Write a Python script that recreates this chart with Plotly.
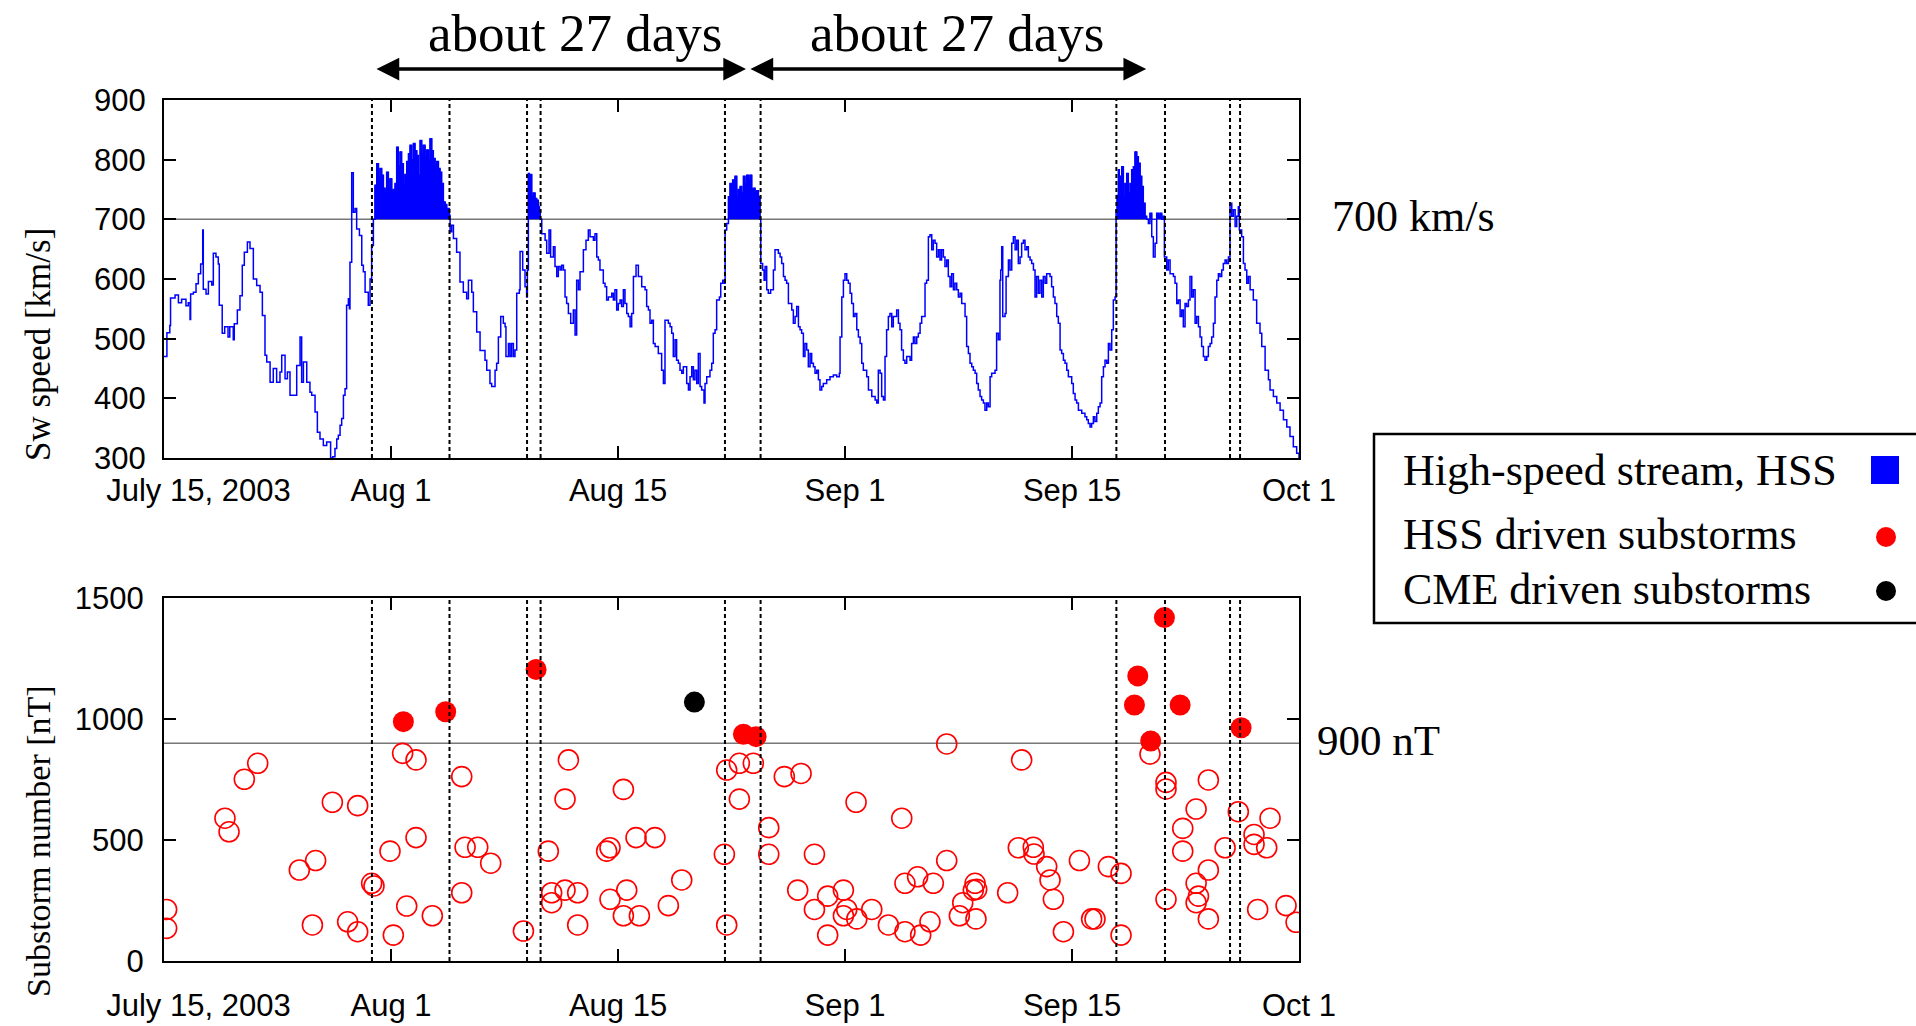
import plotly.graph_objects as go

# ---------------- DATA ----------------
# x values are days since 2003-07-15 00:00 UT
x_tick_days = [0, 15.6, 31.2, 46.8, 62.4, 78]
x_tick_labels = ["\u00a0" * 8 + "July 15, 2003", "Aug 1", "Aug 15", "Sep 1", "Sep 15", "Oct 1"]

# solar wind speed (day, km/s)
sw_speed = [
    (0.00, 470), (0.20, 510), (0.40, 522), (0.45, 568), (0.76, 573), (0.99, 560), (1.21, 566), (1.51, 555),
    (1.67, 560), (1.79, 532), (1.83, 575), (2.02, 578), (2.20, 592), (2.36, 609), (2.52, 625), (2.66, 682),
    (2.70, 583), (2.89, 575), (3.05, 596), (3.28, 590), (3.39, 643), (3.57, 637), (3.73, 625), (3.80, 556),
    (4.00, 509), (4.17, 520), (4.40, 503), (4.52, 520), (4.76, 498), (4.83, 525), (5.04, 548), (5.22, 572),
    (5.38, 623), (5.52, 645), (5.73, 662), (5.91, 651), (6.14, 600), (6.37, 589), (6.60, 578), (6.76, 539),
    (6.94, 472), (7.06, 461), (7.29, 427), (7.51, 450), (7.74, 427), (7.97, 444), (8.09, 472), (8.32, 433),
    (8.48, 444), (8.66, 405), (9.12, 455), (9.35, 503), (9.46, 427), (9.58, 461), (9.81, 427), (10.03, 410),
    (10.15, 405), (10.38, 377), (10.54, 343), (10.72, 332), (10.95, 321), (11.18, 327), (11.45, 300),
    (11.60, 302), (11.75, 316), (11.87, 332), (11.98, 338), (12.10, 355), (12.21, 366), (12.33, 405),
    (12.44, 416), (12.55, 556), (12.67, 567), (12.74, 550), (12.78, 628), (12.90, 778), (13.01, 712),
    (13.13, 718), (13.24, 684), (13.43, 673), (13.59, 623), (13.70, 612), (13.82, 578), (14.04, 556),
    (14.16, 600), (14.27, 656), (14.39, 700),
    (14.50, 757), (14.56, 730), (14.62, 793), (14.74, 770), (14.85, 785), (14.96, 774), (15.08, 752),
    (15.19, 745), (15.30, 779), (15.42, 752), (15.53, 768), (15.65, 748), (15.76, 750), (15.88, 760),
    (15.99, 821), (16.10, 790), (16.22, 813), (16.33, 793), (16.45, 757), (16.56, 775), (16.68, 797),
    (16.80, 810), (16.91, 824), (17.02, 800), (17.14, 827), (17.25, 815), (17.37, 807), (17.48, 774),
    (17.60, 832), (17.71, 810), (17.82, 824), (17.94, 805), (18.05, 816), (18.17, 800), (18.28, 835),
    (18.40, 815), (18.51, 802), (18.63, 790), (18.74, 797), (18.86, 785), (18.97, 779), (19.08, 760),
    (19.20, 729), (19.32, 725), (19.43, 718), (19.61, 707),
    (19.66, 679), (19.77, 690), (19.89, 668), (20.11, 645), (20.34, 595), (20.57, 578), (20.80, 567),
    (20.92, 598), (21.15, 578), (21.26, 545), (21.49, 511), (21.72, 480), (22.06, 464), (22.18, 447),
    (22.40, 425), (22.52, 420), (22.75, 447), (22.86, 459), (22.98, 503), (23.14, 537), (23.32, 526),
    (23.44, 520), (23.50, 470), (23.67, 492), (23.78, 470), (23.89, 492), (24.01, 470), (24.12, 481),
    (24.24, 576), (24.42, 582), (24.47, 646), (24.65, 615), (24.81, 587), (24.92, 570), (24.97, 615),
    (25.04, 777), (25.10, 760), (25.15, 775), (25.27, 738), (25.38, 744), (25.50, 735), (25.61, 732),
    (25.72, 721), (25.80, 715), (25.86, 700),
    (25.96, 676), (26.19, 665), (26.30, 643), (26.46, 682), (26.57, 637), (26.76, 654), (26.87, 621),
    (26.99, 604), (27.10, 621), (27.22, 615), (27.33, 623), (27.45, 615), (27.56, 570), (27.67, 559),
    (27.79, 542), (27.95, 526), (28.13, 548), (28.25, 506), (28.36, 598), (28.48, 582), (28.59, 612),
    (28.82, 649), (29.00, 665), (29.16, 682), (29.28, 671), (29.51, 665), (29.62, 676), (29.74, 637),
    (29.85, 632), (29.96, 615), (30.19, 593), (30.31, 587), (30.42, 565), (30.54, 570), (30.77, 576),
    (30.88, 565), (30.99, 582), (31.11, 548), (31.22, 559), (31.34, 565), (31.45, 554), (31.57, 582),
    (31.68, 559), (31.80, 542), (31.91, 537), (32.03, 520), (32.14, 542), (32.26, 604), (32.44, 623),
    (32.60, 604), (32.83, 587), (33.06, 582), (33.17, 554), (33.29, 548), (33.40, 526), (33.52, 531),
    (33.63, 492), (33.75, 487), (33.97, 475), (34.20, 447), (34.32, 425), (34.43, 531), (34.66, 526),
    (34.78, 520), (34.89, 509), (35.00, 470), (35.12, 498), (35.23, 464), (35.35, 459), (35.46, 447),
    (35.58, 442), (35.69, 453), (35.92, 425), (36.04, 414), (36.15, 436), (36.27, 453), (36.38, 431),
    (36.49, 447), (36.61, 425), (36.72, 475), (36.84, 420), (36.95, 414), (37.11, 392), (37.18, 425),
    (37.30, 436), (37.52, 447), (37.64, 459), (37.75, 509), (37.87, 515), (37.98, 565), (38.17, 570),
    (38.26, 593), (38.40, 598), (38.51, 593), (38.56, 682), (38.67, 693),
    (38.79, 738), (38.90, 760), (38.99, 745), (39.08, 766), (39.16, 748), (39.24, 772), (39.36, 738),
    (39.47, 750), (39.59, 755), (39.70, 745), (39.82, 772), (39.93, 760), (40.05, 774), (40.16, 766),
    (40.27, 774), (40.39, 749), (40.50, 752), (40.62, 744), (40.73, 748), (40.85, 738), (40.96, 700),
    (41.01, 626), (41.14, 615), (41.24, 598), (41.31, 621), (41.42, 582), (41.53, 576), (41.69, 582),
    (41.88, 615), (41.99, 649), (42.22, 643), (42.34, 637), (42.45, 626), (42.57, 604), (42.68, 598),
    (42.79, 593), (42.91, 559), (43.14, 548), (43.25, 526), (43.37, 537), (43.48, 554), (43.60, 520),
    (43.71, 515), (43.82, 509), (43.94, 470), (44.05, 492), (44.17, 481), (44.28, 453), (44.40, 475),
    (44.51, 459), (44.63, 453), (44.74, 442), (44.86, 447), (44.97, 431), (45.08, 414), (45.20, 420),
    (45.31, 425), (45.54, 431), (45.77, 436), (46.00, 439), (46.23, 436), (46.41, 442), (46.46, 503),
    (46.58, 570), (46.69, 598), (46.80, 609), (46.92, 598), (47.03, 593), (47.15, 576), (47.26, 559),
    (47.38, 537), (47.49, 542), (47.61, 515), (47.72, 503), (47.84, 492), (47.95, 459), (48.06, 447),
    (48.29, 436), (48.41, 414), (48.64, 403), (48.87, 397), (48.98, 392), (49.09, 447), (49.21, 442),
    (49.32, 403), (49.44, 397), (49.55, 470), (49.66, 515), (49.78, 537), (49.89, 542), (50.01, 520),
    (50.12, 537), (50.35, 548), (50.47, 526), (50.58, 515), (50.69, 481), (50.81, 464), (50.92, 459),
    (51.04, 470), (51.27, 464), (51.38, 492), (51.50, 503), (51.61, 492), (51.73, 503), (51.84, 509),
    (51.96, 526), (52.07, 537), (52.19, 537), (52.30, 593), (52.41, 598), (52.53, 671), (52.64, 674),
    (52.76, 649), (52.87, 665), (52.99, 660), (53.10, 637), (53.22, 649), (53.33, 632), (53.44, 649),
    (53.56, 637), (53.67, 621), (53.79, 632), (53.90, 604), (54.02, 587), (54.13, 609), (54.25, 582),
    (54.36, 593), (54.48, 582), (54.59, 570), (54.71, 576), (54.82, 559), (55.05, 537), (55.16, 487),
    (55.28, 475), (55.39, 459), (55.51, 453), (55.62, 447), (55.74, 442), (55.85, 425), (55.96, 414),
    (56.08, 403), (56.19, 397), (56.31, 392), (56.42, 380), (56.54, 392), (56.65, 386), (56.77, 436),
    (56.88, 442), (57.11, 447), (57.22, 509), (57.34, 498), (57.45, 598), (57.50, 615), (57.57, 654),
    (57.64, 537), (57.80, 542), (57.87, 604), (58.03, 632), (58.14, 615), (58.26, 660), (58.37, 671),
    (58.49, 649), (58.60, 665), (58.71, 626), (58.83, 637), (58.94, 660), (59.06, 665), (59.17, 649),
    (59.29, 654), (59.40, 637), (59.52, 632), (59.63, 626), (59.75, 615), (59.86, 570), (59.97, 604),
    (60.09, 576), (60.20, 598), (60.32, 570), (60.43, 604), (60.55, 593), (60.66, 609), (60.89, 604),
    (61.00, 587), (61.12, 570), (61.23, 559), (61.35, 537), (61.46, 526), (61.58, 481), (61.69, 475),
    (61.81, 464), (61.92, 459), (62.04, 447), (62.15, 436), (62.38, 425), (62.49, 408), (62.61, 397),
    (62.72, 392), (62.84, 380), (62.95, 380), (63.07, 375), (63.29, 369), (63.41, 364), (63.52, 358),
    (63.64, 352), (63.75, 358), (63.87, 369), (63.98, 361), (64.10, 375), (64.21, 386), (64.33, 392),
    (64.44, 436), (64.56, 453), (64.67, 464), (64.79, 459), (64.90, 492), (65.01, 481), (65.13, 515),
    (65.24, 565), (65.36, 570),
    (65.43, 716), (65.50, 740), (65.59, 783), (65.65, 745), (65.70, 772), (65.76, 740), (65.82, 788),
    (65.93, 738), (66.04, 760), (66.10, 735), (66.16, 777), (66.27, 744), (66.39, 760), (66.50, 783),
    (66.62, 788), (66.73, 813), (66.85, 805), (66.96, 794), (67.08, 772), (67.19, 755), (67.30, 727),
    (67.42, 705), (67.53, 700), (67.65, 693), (67.76, 710), (67.88, 671), (67.99, 637), (68.11, 660),
    (68.22, 710), (68.34, 705), (68.45, 710), (68.57, 700), (68.68, 705),
    (68.75, 637), (68.91, 615), (69.02, 632), (69.14, 609), (69.37, 604), (69.48, 593), (69.60, 559),
    (69.71, 565), (69.83, 537), (69.94, 548), (70.05, 520), (70.17, 559), (70.28, 554), (70.40, 565),
    (70.51, 604), (70.63, 570), (70.74, 582), (70.86, 526), (70.97, 537), (71.09, 520), (71.20, 503),
    (71.31, 487), (71.43, 470), (71.54, 464), (71.66, 470), (71.77, 487), (71.89, 492), (72.00, 503),
    (72.12, 526), (72.23, 570), (72.35, 598), (72.46, 609), (72.57, 604), (72.69, 615), (72.80, 626),
    (72.92, 632), (73.03, 626), (73.15, 637), (73.26, 727), (73.38, 705), (73.49, 716), (73.61, 688),
    (73.72, 705), (73.83, 721), (73.90, 682), (74.06, 671), (74.18, 626), (74.29, 615), (74.41, 593),
    (74.52, 604), (74.64, 582), (74.86, 565), (75.09, 526), (75.32, 509), (75.44, 487), (75.67, 447),
    (75.90, 431), (76.01, 414), (76.24, 403), (76.47, 392), (76.70, 380), (76.93, 364), (77.16, 352),
    (77.38, 336), (77.61, 319), (77.84, 308), (78.00, 297),
]
sw_days = [p[0] for p in sw_speed]
sw_kms = [p[1] for p in sw_speed]

speed_threshold = 700
substorm_threshold = 900

# HSS boundaries (days); pairs (0,1), (2,3), (4,5), (6,7) are filled HSS intervals
hss_boundaries = [14.29, 19.62, 24.95, 25.88, 38.55, 41.0, 65.45, 68.79, 73.26, 73.95]
hss_fill_pairs = [(0, 1), (2, 3), (4, 5), (6, 7)]

# substorms (day, nT)
quiet_days = [0.18, 0.18, 4.19, 4.47, 5.52, 6.44, 9.30, 10.42, 10.20, 11.57, 13.31, 12.62, 13.31, 14.27,
              14.43, 15.53, 15.76, 16.68, 16.40, 17.32, 17.32, 18.44, 20.46, 20.46, 20.69, 21.56, 22.45,
              24.70, 26.41, 26.64, 26.64, 27.56, 28.43, 28.43, 27.56, 27.79, 30.42, 30.65, 30.65, 31.80,
              31.57, 32.67, 32.44, 33.74, 31.57, 34.66, 35.58, 38.51, 38.67, 38.67, 39.54, 39.54, 40.50,
              41.56, 41.56, 42.63, 43.78, 43.55, 44.70, 44.70, 45.61, 45.61, 46.69, 46.92, 46.69, 47.61,
              48.64, 49.78, 47.56, 50.70, 50.92, 50.92, 51.79, 52.87, 52.64, 52.00, 53.79, 53.79, 54.66,
              54.89, 55.74, 55.62, 55.85, 55.80, 57.98, 58.71, 59.74, 59.79, 60.66, 60.89, 61.12, 58.94,
              61.81, 62.91, 63.75, 63.98, 64.90, 65.77, 65.77, 67.76, 68.86, 68.86, 68.86, 70.01, 70.01,
              70.93, 70.93, 71.09, 70.93, 71.77, 71.77, 71.77, 72.92, 73.83, 74.91, 74.91, 75.78, 76.01,
              75.16, 77.11, 77.80]
quiet_nt = [213, 135, 590, 534, 751, 817, 376, 415, 149, 656, 642, 162, 121, 321,
            310, 454, 107, 227, 858, 831, 510, 187, 762, 282, 470, 470, 404,
            124, 454, 282, 241, 293, 282, 149, 669, 831, 454, 468, 255, 293,
            187, 187, 510, 510, 709, 229, 335, 441, 149, 789, 817, 669, 817,
            551, 441, 762, 775, 293, 441, 213, 268, 107, 293, 213, 187, 174,
            213, 149, 656, 590, 321, 121, 348, 321, 162, 107, 415, 897, 187,
            241, 321, 293, 296, 174, 282, 468, 470, 442, 390, 335, 255, 831,
            121, 415, 174, 174, 390, 362, 107, 855, 738, 711, 255, 548, 454,
            628, 321, 268, 241, 748, 376, 174, 468, 617, 523, 482, 468, 590,
            213, 229, 160]
hss_sub_days = [16.45, 19.36, 25.57, 39.82, 40.69, 68.75, 66.92, 66.69, 69.83, 67.81, 74.02]
hss_sub_nt = [989, 1030, 1205, 937, 927, 1419, 1178, 1058, 1058, 909, 964]
cme_sub_days = [36.45]
cme_sub_nt = [1070]

legend_labels = ["High-speed stream, HSS", "HSS driven substorms", "CME driven substorms"]

# ---------------- FIGURE ----------------
W, H = 1916, 1026
SERIF = "Liberation Serif, Times New Roman, serif"
SANS = "Liberation Sans, Arial, Helvetica, sans-serif"
BLUE = "#0000ff"
RED = "#ff0000"

def px_x(p):
    return p / W

def px_y(p):
    return 1 - p / H

xdom = [px_x(164), px_x(1299)]
top_dom = [px_y(458), px_y(100)]
bot_dom = [px_y(961), px_y(598)]

fig = go.Figure()

# HSS filled regions
for a, b in hss_fill_pairs:
    lo, hi = hss_boundaries[a], hss_boundaries[b]
    seg = [(d, v) for d, v in sw_speed if lo <= d <= hi]
    xs = [seg[0][0]] + [d for d, _ in seg] + [seg[-1][0]]
    ys = [speed_threshold] + [max(v, speed_threshold) for _, v in seg] + [speed_threshold]
    fig.add_trace(go.Scatter(x=xs, y=ys, mode="lines", line=dict(color=BLUE, width=1, shape="hv"),
                             fill="toself", fillcolor=BLUE, hoverinfo="skip", xaxis="x", yaxis="y"))

fig.add_trace(go.Scatter(x=sw_days, y=sw_kms, mode="lines", line=dict(color=BLUE, width=1.5, shape="hv"),
                         name="Sw speed", xaxis="x", yaxis="y"))

fig.add_trace(go.Scatter(x=quiet_days, y=quiet_nt, mode="markers",
                         marker=dict(symbol="circle-open", size=20, color=RED, line=dict(width=1.6, color=RED)),
                         xaxis="x2", yaxis="y2"))
fig.add_trace(go.Scatter(x=hss_sub_days, y=hss_sub_nt, mode="markers",
                         marker=dict(symbol="circle", size=21, color=RED), xaxis="x2", yaxis="y2"))
fig.add_trace(go.Scatter(x=cme_sub_days, y=cme_sub_nt, mode="markers",
                         marker=dict(symbol="circle", size=21, color="black"), xaxis="x2", yaxis="y2"))

shapes = []
for xa, ya in (("x", "y"), ("x2", "y2")):
    for d in hss_boundaries:
        shapes.append(dict(type="line", xref=xa, yref=f"{ya} domain", x0=d, x1=d, y0=0, y1=1,
                           line=dict(color="black", width=2, dash="4px,3px"), layer="above"))
shapes.append(dict(type="line", xref="x domain", yref="y", x0=0, x1=1, y0=speed_threshold, y1=speed_threshold,
                   line=dict(color="#777777", width=1.5), layer="below"))
shapes.append(dict(type="line", xref="x2 domain", yref="y2", x0=0, x1=1, y0=substorm_threshold,
                   y1=substorm_threshold, line=dict(color="#777777", width=1.5), layer="below"))

# legend box and keys
shapes.append(dict(type="rect", xref="paper", yref="paper", x0=px_x(1374), x1=px_x(1930),
                   y0=px_y(623), y1=px_y(434), line=dict(color="black", width=2.5), fillcolor="rgba(0,0,0,0)"))
shapes.append(dict(type="rect", xref="paper", yref="paper", x0=px_x(1871), x1=px_x(1899),
                   y0=px_y(484), y1=px_y(456), line=dict(width=0), fillcolor=BLUE))
shapes.append(dict(type="circle", xref="paper", yref="paper", x0=px_x(1876), x1=px_x(1896),
                   y0=px_y(547), y1=px_y(527), line=dict(width=0), fillcolor=RED))
shapes.append(dict(type="circle", xref="paper", yref="paper", x0=px_x(1876), x1=px_x(1896),
                   y0=px_y(601), y1=px_y(581), line=dict(width=0), fillcolor="black"))

annotations = []
# y titles
annotations.append(dict(text="Sw speed [km/s]", xref="paper", yref="paper", x=px_x(38), y=px_y(345),
                        textangle=-90, showarrow=False, font=dict(family=SERIF, size=35, color="black"),
                        xanchor="center", yanchor="middle"))
annotations.append(dict(text="Substorm number [nT]", xref="paper", yref="paper", x=px_x(38), y=px_y(841),
                        textangle=-90, showarrow=False, font=dict(family=SERIF, size=34, color="black"),
                        xanchor="center", yanchor="middle"))
# threshold labels
annotations.append(dict(text="700 km/s", xref="paper", yref="paper", x=px_x(1413), y=px_y(216),
                        xanchor="center", yanchor="middle",
                        showarrow=False, font=dict(family=SERIF, size=44, color="black")))
annotations.append(dict(text="900 nT", xref="paper", yref="paper", x=px_x(1378), y=px_y(740),
                        xanchor="center", yanchor="middle",
                        showarrow=False, font=dict(family=SERIF, size=43, color="black")))
# about 27 days
for xc in (28.25, 54.5):
    annotations.append(dict(text="about 27 days", xref="x", yref="paper", x=xc, y=px_y(33),
                            xanchor="center", yanchor="middle",
                            showarrow=False, font=dict(family=SERIF, size=53, color="black")))
for x0, x1 in ((14.5, 40.0), (40.2, 67.5)):
    annotations.append(dict(text="", xref="x", yref="paper", x=x1, y=px_y(69), ax=x0, ay=0,
                            axref="x", ayref="pixel", showarrow=True, arrowside="end+start",
                            arrowhead=2, startarrowhead=2, arrowsize=1.3, startarrowsize=1.3,
                            arrowwidth=3.5, arrowcolor="black"))
# legend texts
for lab, yc in zip(legend_labels, (471, 534, 589)):
    annotations.append(dict(text=lab, xref="paper", yref="paper", x=px_x(1401), y=px_y(yc),
                            xanchor="left", yanchor="middle", showarrow=False,
                            font=dict(family=SERIF, size=44, color="black")))

axis_common = dict(showline=True, mirror="allticks", linecolor="black", linewidth=2, ticks="inside",
                   ticklen=12, tickwidth=1.5, tickcolor="black", showgrid=False, zeroline=False,
                   automargin=False, tickfont=dict(family=SANS, size=31, color="black"))

fig.update_layout(
    template="none",
    width=W, height=H, margin=dict(l=0, r=0, t=0, b=0, pad=0, autoexpand=False), showlegend=False,
    paper_bgcolor="white", plot_bgcolor="white",
    xaxis=dict(domain=xdom, anchor="y", range=[0, 78], tickmode="array", tickvals=x_tick_days,
               ticktext=x_tick_labels, ticklabelstandoff=4, **axis_common),
    yaxis=dict(domain=top_dom, anchor="x", range=[300, 900], tickmode="linear", tick0=300, dtick=100,
               ticklabelstandoff=10, **axis_common),
    xaxis2=dict(domain=xdom, anchor="y2", range=[0, 78], tickmode="array", tickvals=x_tick_days,
                ticktext=x_tick_labels, ticklabelstandoff=16, **axis_common),
    yaxis2=dict(domain=bot_dom, anchor="x2", range=[0, 1500], tickmode="linear", tick0=0, dtick=500,
                ticklabelstandoff=12, **axis_common),
    shapes=shapes, annotations=annotations,
)

fig.write_html("out.html", config={"displayModeBar": False},
               post_script="document.body.style.margin='0';document.body.style.overflow='hidden';")
